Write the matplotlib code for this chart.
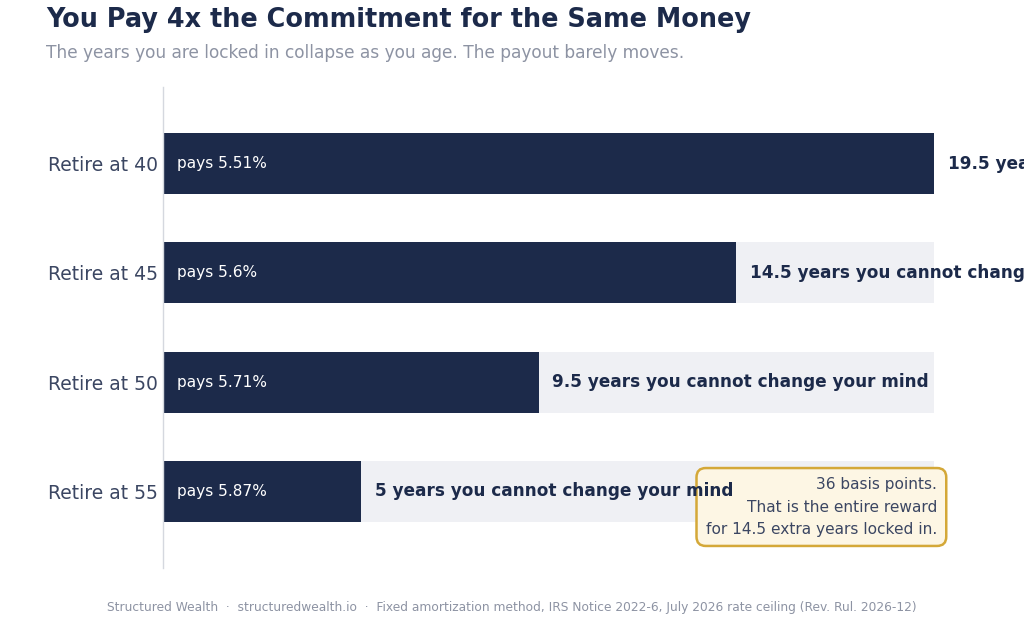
import matplotlib
matplotlib.use('Agg')
import matplotlib.pyplot as plt

# Data
categories = ['Retire at 40', 'Retire at 45', 'Retire at 50', 'Retire at 55']
years_locked = [19.5, 14.5, 9.5, 5]
payout_pct = ['5.51%', '5.6%', '5.71%', '5.87%']
max_years = 19.5

NAVY = '#1c2a4a'
TRACK = '#eff0f4'
LABEL = '#3b4662'
GRAY = '#8d93a3'

fig = plt.figure(figsize=(10.24, 6.24), dpi=100)
fig.patch.set_facecolor('white')
ax = fig.add_axes([163 / 1024, 1 - 568 / 624, (934 - 163) / 1024, (568 - 87) / 624])

ypos = list(range(len(categories)))

# Background track bars + filled bars
ax.barh(ypos, [max_years] * len(ypos), height=0.56, color=TRACK, zorder=1)
ax.barh(ypos, years_locked, height=0.56, color=NAVY, zorder=2)

for y, yrs, pct in zip(ypos, years_locked, payout_pct):
    ax.text(0.35, y, f'pays {pct}', color='white', fontsize=11.1,
            va='center', ha='left', zorder=4)
    yrs_txt = f'{yrs:g} years you cannot change your mind'
    ax.text(yrs + 0.35, y, yrs_txt, color=NAVY, fontsize=12.2,
            fontweight='bold', va='center', ha='left', zorder=4, clip_on=False)

ax.set_xlim(0, max_years)
ax.set_ylim(3.7, -0.7)
ax.set_yticks(ypos)
ax.set_yticklabels(categories, fontsize=13.5, color=LABEL)
ax.tick_params(axis='y', length=0, pad=3.5)
ax.set_xticks([])
for side in ['top', 'right', 'bottom']:
    ax.spines[side].set_visible(False)
ax.spines['left'].set_color('#d5d8df')
ax.spines['left'].set_linewidth(1)

# Callout box (sits under the bar labels)
ax.text(937 / 1024, 1 - 507 / 624,
        '36 basis points.\nThat is the entire reward\nfor 14.5 extra years locked in.',
        transform=fig.transFigure, clip_on=False,
        ha='right', va='center', fontsize=11.1, color=LABEL, linespacing=1.6,
        zorder=3,
        bbox=dict(boxstyle='round,pad=0.6,rounding_size=0.6',
                  facecolor='#fdf6e4', edgecolor='#d4a838', linewidth=1.8))

# Titles
fig.text(46 / 1024, 1 - 20 / 624, 'You Pay 4x the Commitment for the Same Money',
         fontsize=18.4, fontweight='bold', color=NAVY, va='center', ha='left')
fig.text(46 / 1024, 1 - 53 / 624,
         'The years you are locked in collapse as you age. The payout barely moves.',
         fontsize=12.25, color=GRAY, va='center', ha='left')

# Footer
fig.text(512 / 1024, 1 - 607 / 624,
         'Structured Wealth  \u00b7  structuredwealth.io  \u00b7  Fixed amortization method, '
         'IRS Notice 2022-6, July 2026 rate ceiling (Rev. Rul. 2026-12)',
         fontsize=8.8, color=GRAY, va='center', ha='center')

fig.savefig('out.png', dpi=100, facecolor='white')
plt.close(fig)
